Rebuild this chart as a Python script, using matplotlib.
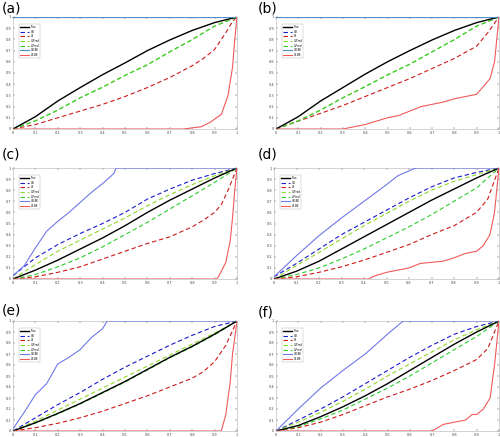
import matplotlib
matplotlib.use("Agg")
import matplotlib.pyplot as plt
import numpy as np

X = [0, 0.1, 0.2, 0.3, 0.4, 0.5, 0.6, 0.7, 0.8, 0.9, 1.0]
LABELS = ["True", "UB", "LB", "U-Pred", "L-Pred", "UB-BE", "LB-BE"]
PANELS = ["(a)", "(b)", "(c)", "(d)", "(e)", "(f)"]

# ---- panel (a)
A_TRUE = [0, 0.11, 0.25, 0.37, 0.485, 0.59, 0.70, 0.795, 0.88, 0.95, 1.0]
A_UB = [1, 1, 1, 1, 1, 1, 1, 1, 1, 1, 1]
A_LB_X = [0, 0.1, 0.2, 0.3, 0.4, 0.5, 0.6, 0.7, 0.8, 0.85, 0.9, 0.95, 0.98, 1.0]
A_LB = [0, 0.04, 0.10, 0.16, 0.22, 0.29, 0.37, 0.46, 0.565, 0.63, 0.71, 0.86, 0.96, 1.0]
A_UP = [0, 0.075, 0.17, 0.28, 0.375, 0.48, 0.575, 0.69, 0.80, 0.92, 1.0]
A_LP = [0, 0.072, 0.168, 0.278, 0.372, 0.478, 0.572, 0.688, 0.798, 0.918, 1.0]
A_UBBE_X = [0, 1.0]
A_UBBE = [1, 1]
A_LBBE_X = [0, 0.76, 0.8, 0.84, 0.88, 0.93, 0.96, 0.98, 0.99, 1.0]
A_LBBE = [0, 0, 0.01, 0.02, 0.06, 0.13, 0.30, 0.55, 0.80, 1.0]

# ---- panel (b)
B_TRUE = [0, 0.11, 0.25, 0.37, 0.49, 0.60, 0.70, 0.795, 0.88, 0.95, 1.0]
B_UB = [1, 1, 1, 1, 1, 1, 1, 1, 1, 1, 1]
B_LB_X = [0, 0.1, 0.2, 0.3, 0.4, 0.5, 0.6, 0.7, 0.8, 0.9, 0.95, 1.0]
B_LB = [0, 0.07, 0.14, 0.21, 0.29, 0.37, 0.45, 0.54, 0.63, 0.74, 0.86, 1.0]
B_UP = [0, 0.075, 0.17, 0.28, 0.38, 0.485, 0.58, 0.69, 0.80, 0.92, 1.0]
B_LP = [0, 0.072, 0.168, 0.278, 0.378, 0.482, 0.578, 0.688, 0.798, 0.918, 1.0]
B_UBBE_X = [0, 1.0]
B_UBBE = [1, 1]
B_LBBE_X = [0, 0.3, 0.35, 0.4, 0.45, 0.5, 0.55, 0.6, 0.65, 0.7, 0.75, 0.8, 0.85, 0.9, 0.93, 0.96, 0.98, 0.99, 1.0]
B_LBBE = [0, 0, 0.02, 0.04, 0.07, 0.10, 0.12, 0.16, 0.20, 0.22, 0.24, 0.27, 0.29, 0.31, 0.38, 0.45, 0.60, 0.80, 1.0]

# ---- panel (c)
C_TRUE = [0, 0.08, 0.17, 0.27, 0.37, 0.48, 0.60, 0.71, 0.81, 0.91, 1.0]
C_UB = [0.03, 0.19, 0.31, 0.41, 0.50, 0.60, 0.72, 0.81, 0.89, 0.95, 1.0]
C_LB_X = [0, 0.1, 0.2, 0.3, 0.4, 0.5, 0.6, 0.7, 0.8, 0.85, 0.9, 0.93, 0.96, 1.0]
C_LB = [0, 0.02, 0.06, 0.11, 0.18, 0.25, 0.32, 0.38, 0.47, 0.53, 0.60, 0.67, 0.80, 1.0]
C_UP = [0, 0.13, 0.25, 0.35, 0.45, 0.55, 0.66, 0.76, 0.85, 0.93, 1.0]
C_LP = [0, 0.04, 0.11, 0.19, 0.29, 0.40, 0.51, 0.63, 0.75, 0.87, 1.0]
C_UBBE_X = [0, 0.05, 0.1, 0.15, 0.2, 0.25, 0.3, 0.35, 0.4, 0.45, 0.46, 1.0]
C_UBBE = [0.03, 0.12, 0.28, 0.43, 0.52, 0.60, 0.69, 0.78, 0.86, 0.95, 1.0, 1.0]
C_LBBE_X = [0, 0.91, 0.92, 0.95, 0.97, 0.98, 0.99, 1.0]
C_LBBE = [0, 0, 0.03, 0.15, 0.35, 0.55, 0.80, 1.0]

# ---- panel (d)
D_TRUE = [0, 0.07, 0.16, 0.27, 0.38, 0.49, 0.60, 0.71, 0.81, 0.91, 1.0]
D_UB = [0.02, 0.14, 0.27, 0.40, 0.51, 0.62, 0.73, 0.83, 0.91, 0.96, 1.0]
D_LB_X = [0, 0.1, 0.2, 0.3, 0.4, 0.5, 0.6, 0.7, 0.8, 0.9, 0.95, 1.0]
D_LB = [0, 0.02, 0.06, 0.11, 0.17, 0.24, 0.31, 0.40, 0.48, 0.60, 0.72, 1.0]
D_UP = [0, 0.12, 0.24, 0.36, 0.48, 0.59, 0.70, 0.80, 0.88, 0.94, 1.0]
D_LP = [0, 0.04, 0.10, 0.18, 0.27, 0.37, 0.47, 0.58, 0.70, 0.82, 1.0]
D_UBBE_X = [0, 0.1, 0.2, 0.3, 0.4, 0.5, 0.55, 0.63, 1.0]
D_UBBE = [0.02, 0.21, 0.39, 0.55, 0.70, 0.85, 0.93, 1.0, 1.0]
D_LBBE_X = [0, 0.42, 0.45, 0.5, 0.55, 0.6, 0.65, 0.7, 0.75, 0.8, 0.85, 0.9, 0.93, 0.96, 0.98, 1.0]
D_LBBE = [0, 0, 0.03, 0.06, 0.08, 0.10, 0.14, 0.15, 0.16, 0.19, 0.23, 0.25, 0.30, 0.40, 0.60, 1.0]

# ---- panel (e)
E_TRUE = [0, 0.075, 0.16, 0.25, 0.35, 0.45, 0.56, 0.67, 0.77, 0.88, 1.0]
E_UB = [0, 0.12, 0.24, 0.35, 0.47, 0.58, 0.68, 0.78, 0.87, 0.95, 1.0]
E_LB_X = [0, 0.1, 0.2, 0.3, 0.4, 0.5, 0.6, 0.7, 0.8, 0.85, 0.9, 0.95, 1.0]
E_LB = [0, 0.03, 0.07, 0.12, 0.18, 0.25, 0.32, 0.40, 0.48, 0.54, 0.63, 0.78, 1.0]
E_UP = [0, 0.09, 0.19, 0.29, 0.39, 0.49, 0.59, 0.69, 0.79, 0.89, 1.0]
E_LP = [0, 0.072, 0.155, 0.245, 0.345, 0.445, 0.555, 0.665, 0.765, 0.875, 1.0]
E_UBBE_X = [0, 0.05, 0.1, 0.15, 0.2, 0.25, 0.3, 0.35, 0.4, 0.42, 1.0]
E_UBBE = [0.02, 0.17, 0.33, 0.43, 0.61, 0.67, 0.74, 0.85, 0.93, 1.0, 1.0]
E_LBBE_X = [0, 0.93, 0.95, 0.97, 0.98, 1.0]
E_LBBE = [0, 0, 0.15, 0.45, 0.70, 1.0]

# ---- panel (f)
F_TRUE = [0, 0.05, 0.13, 0.22, 0.32, 0.43, 0.55, 0.67, 0.79, 0.90, 1.0]
F_UB = [0, 0.10, 0.20, 0.31, 0.43, 0.55, 0.67, 0.78, 0.88, 0.95, 1.0]
F_LB_X = [0, 0.1, 0.2, 0.3, 0.4, 0.5, 0.6, 0.7, 0.8, 0.9, 0.95, 1.0]
F_LB = [0, 0.03, 0.08, 0.15, 0.23, 0.31, 0.38, 0.46, 0.55, 0.65, 0.75, 1.0]
F_UP = [0, 0.08, 0.17, 0.27, 0.38, 0.50, 0.61, 0.72, 0.83, 0.92, 1.0]
F_LP = [0, 0.04, 0.11, 0.19, 0.29, 0.39, 0.50, 0.62, 0.74, 0.86, 1.0]
F_UBBE_X = [0, 0.1, 0.2, 0.3, 0.4, 0.5, 0.57, 1.0]
F_UBBE = [0, 0.20, 0.39, 0.55, 0.70, 0.88, 1.0, 1.0]
F_LBBE_X = [0, 0.7, 0.75, 0.8, 0.85, 0.88, 0.9, 0.93, 0.96, 0.98, 1.0]
F_LBBE = [0, 0, 0.06, 0.08, 0.10, 0.15, 0.15, 0.20, 0.30, 0.60, 1.0]

SERIES = [
    (A_TRUE, A_UB, A_LB_X, A_LB, A_UP, A_LP, A_UBBE_X, A_UBBE, A_LBBE_X, A_LBBE),
    (B_TRUE, B_UB, B_LB_X, B_LB, B_UP, B_LP, B_UBBE_X, B_UBBE, B_LBBE_X, B_LBBE),
    (C_TRUE, C_UB, C_LB_X, C_LB, C_UP, C_LP, C_UBBE_X, C_UBBE, C_LBBE_X, C_LBBE),
    (D_TRUE, D_UB, D_LB_X, D_LB, D_UP, D_LP, D_UBBE_X, D_UBBE, D_LBBE_X, D_LBBE),
    (E_TRUE, E_UB, E_LB_X, E_LB, E_UP, E_LP, E_UBBE_X, E_UBBE, E_LBBE_X, E_LBBE),
    (F_TRUE, F_UB, F_LB_X, F_LB, F_UP, F_LP, F_UBBE_X, F_UBBE, F_LBBE_X, F_LBBE),
]

W, H = 500, 437
fig = plt.figure(figsize=(5, 4.37), dpi=100)

# pixel boxes (left, top, right, bottom)
BOXES = [(13, 17, 237, 129), (276, 17, 499, 129),
         (13, 168, 237, 279), (274, 168, 499, 279),
         (13, 321, 237, 431), (276, 321, 499, 431)]
LABEL_POS = [(2, 9), (258, 9), (2, 154), (258, 154), (2, 310), (258, 312)]

ticks = [0, 0.1, 0.2, 0.3, 0.4, 0.5, 0.6, 0.7, 0.8, 0.9, 1]
ticklabels = ["0", "0.1", "0.2", "0.3", "0.4", "0.5", "0.6", "0.7", "0.8", "0.9", "1"]

for i, (box, s) in enumerate(zip(BOXES, SERIES)):
    l, t, r, b = box
    ax = fig.add_axes([l / W, 1 - b / H, (r - l) / W, (b - t) / H])
    tr, ub, lbx, lb, up, lp, ubx, ubv, lbbx, lbbv = s
    ax.plot(X, tr, color="black", lw=1.0, label=LABELS[0], zorder=5)
    ax.plot(X, ub, color="#1a1acc", lw=0.8, ls=(0, (4, 2.5)), label=LABELS[1], zorder=4)
    ax.plot(lbx, lb, color="#cc1a1a", lw=0.8, ls=(0, (4, 2.5)), label=LABELS[2], zorder=4)
    ax.plot(X, up, color="#8fd82a", lw=0.8, ls=(0, (4, 2.5)), label=LABELS[3], zorder=4)
    ax.plot(X, lp, color="#2ecc2e", lw=0.8, ls=(0, (4, 2.5)), label=LABELS[4], zorder=4)
    ax.plot(ubx, ubv, color="#6f78e6" if i >= 2 else "#4f8fc8", lw=0.8, label=LABELS[5], zorder=6)
    ax.plot(lbbx, lbbv, color="#f05a5a", lw=0.8, label=LABELS[6], zorder=6)
    ax.set_xlim(0, 1)
    ax.set_ylim(0, 1)
    ax.set_xticks(ticks)
    ax.set_xticklabels(ticklabels)
    ax.set_yticks(ticks)
    ax.set_yticklabels(ticklabels)
    ax.tick_params(direction="in", length=1.2, width=0.3, labelsize=2.5, pad=1.2, colors="#444444",
                   top=True, right=True)
    for sp in ax.spines.values():
        sp.set_color("#b0b0b0")
        sp.set_linewidth(0.4)
    leg = ax.legend(loc="upper left", bbox_to_anchor=(0.02, 0.95), fontsize=1.9, frameon=True,
                    handlelength=3.5, handletextpad=0.5, borderpad=0.4, labelspacing=0.25,
                    fancybox=False, edgecolor="#999999")
    leg.get_frame().set_linewidth(0.3)
    fig.text(LABEL_POS[i][0] / W, 1 - LABEL_POS[i][1] / H, PANELS[i], fontsize=10,
             va="center", ha="left")

fig.savefig("out.png", dpi=100)
